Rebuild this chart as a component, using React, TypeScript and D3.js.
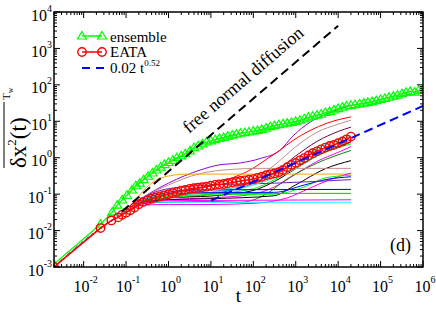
import React from 'react';
import * as d3 from 'd3';

const W = 436;
const H = 310;
const M = { left: 54, right: 423, top: 12, bottom: 267 };

// ensemble MSD (green triangles)
const ensembleT = [0.002, 0.025, 0.047, 0.062, 0.081, 0.105, 0.138, 0.17, 0.21, 0.26, 0.33, 0.42, 0.52, 0.65, 0.8,
  1, 1.26, 1.58, 2, 2.5, 3.2, 4, 5, 6.3, 7.9, 10, 12.6, 15.8, 20, 25, 32, 40, 50, 63, 79,
  100, 126, 158, 200, 251, 316, 398, 501, 631, 794, 1000, 1259, 1585, 1995, 2512, 3162, 3981, 5012, 6310, 7943,
  1e4, 1.26e4, 1.58e4, 2e4, 2.5e4, 3.2e4, 4e4, 5e4, 6.3e4, 7.9e4, 1e5, 1.26e5, 1.58e5, 2e5, 2.5e5, 3.2e5, 4e5, 5e5, 6.3e5, 7.9e5, 1e6];
const ensembleMsd = [0.0012, 0.015, 0.032, 0.05, 0.069, 0.093, 0.13, 0.17, 0.2, 0.25, 0.31, 0.38, 0.46, 0.55, 0.65,
  0.74, 0.85, 1.0, 1.12, 1.29, 1.55, 1.9, 2.1, 2.4, 2.7, 2.9, 3.15, 3.4, 3.6, 3.9, 4.15, 4.4, 4.7, 4.9, 5.1,
  5.4, 5.6, 6.0, 6.5, 7.1, 7.6, 8.1, 8.5, 8.9, 9.3, 10, 10.7, 11.7, 12.9, 13.8, 14.8, 15.8, 17.4, 18.6, 20.4,
  22.4, 24.5, 26.3, 27.5, 28.8, 30.2, 31.6, 33, 34.7, 37, 39.8, 42.6, 45.7, 49, 52.5, 57.5, 61.7, 66, 63, 70.8, 75.9];

// ensemble averaged time averaged MSD (red circles)
const eataT = [0.002, 0.025, 0.045, 0.065, 0.08, 0.1, 0.126, 0.158, 0.2, 0.25, 0.32, 0.4, 0.5, 0.63, 0.79,
  1, 1.26, 1.58, 2, 2.5, 3.2, 4, 5, 6.3, 7.9, 10, 12.6, 15.8, 20, 25, 32, 40, 50, 63, 79,
  100, 126, 158, 200, 251, 316, 398, 501, 631, 794, 1000, 1259, 1585, 1995, 2512, 3162, 3981, 5012, 6310, 7943,
  1e4, 1.26e4, 1.58e4, 2e4];
const eataMsd = [0.001, 0.0117, 0.019, 0.023, 0.027, 0.031, 0.036, 0.043, 0.053, 0.061, 0.068, 0.075, 0.081, 0.087, 0.093,
  0.1, 0.107, 0.115, 0.125, 0.13, 0.14, 0.145, 0.15, 0.155, 0.16, 0.17, 0.18, 0.185, 0.19, 0.2, 0.21, 0.22, 0.23, 0.24, 0.25,
  0.26, 0.28, 0.3, 0.33, 0.35, 0.37, 0.4, 0.46, 0.55, 0.63, 0.72, 0.85, 0.98, 1.15, 1.33, 1.5, 1.7, 1.9, 2.1, 2.25,
  2.5, 2.8, 3.2, 3.8];

// single trajectory TA-MSD, common start then each own path
const trajStart = [[0.002, 0.001], [0.025, 0.0115], [0.05, 0.02], [0.089, 0.031]];
const trajectories = [
  [[0.25, 0.08], [1, 0.2], [5.6, 0.46], [15, 0.63], [50, 0.72], [145, 0.95], [427, 1.6], [871, 4.0], [2188, 9.5], [5495, 16], [2e4, 28]],
  [[0.25, 0.07], [1, 0.1], [3.2, 0.126], [10, 0.178], [32, 0.28], [83, 0.457], [200, 0.89], [427, 1.62], [871, 3.0], [2188, 5.6], [5495, 8.9], [2e4, 13.2]],
  [[0.25, 0.063], [1, 0.089], [10, 0.112], [100, 0.25], [316, 0.63], [1000, 2.0], [3162, 5.0], [1e4, 8.3], [2e4, 10.7]],
  [[0.25, 0.063], [1, 0.079], [10, 0.1], [100, 0.2], [316, 0.4], [1000, 1.12], [3162, 2.8], [1e4, 5.25], [2e4, 6.9]],
  [[0.25, 0.071], [1, 0.089], [10, 0.112], [100, 0.178], [316, 0.355], [1000, 0.79], [3162, 1.78], [1e4, 3.16], [2e4, 4.2]],
  [[0.25, 0.063], [1, 0.079], [10, 0.089], [100, 0.126], [316, 0.224], [1000, 0.5], [3162, 1.12], [1e4, 2.0], [2e4, 2.7]],
  [[0.25, 0.063], [1, 0.079], [10, 0.1], [100, 0.141], [316, 0.25], [1000, 0.56], [3162, 1.12], [1e4, 1.9], [2e4, 2.4]],
  [[0.25, 0.056], [1, 0.071], [10, 0.079], [100, 0.1], [316, 0.158], [1000, 0.355], [3162, 0.79], [1e4, 1.41], [2e4, 2.0]],
  [[0.25, 0.056], [1, 0.06], [10, 0.063], [50, 0.06], [200, 0.1], [562, 0.24], [3162, 0.71], [2e4, 1.58]],
  [[0.25, 0.06], [1, 0.07], [10, 0.075], [300, 0.09], [1000, 0.18], [5000, 0.5], [2e4, 0.83]],
  [[0.25, 0.08], [1, 0.178], [5, 0.355], [32, 0.48], [145, 0.51], [2e4, 0.51]],
  [[0.15, 0.06], [0.3, 0.15], [0.63, 0.275], [2.75, 0.355], [2e4, 0.355]],
  [[0.25, 0.05], [1, 0.052], [10, 0.052], [100, 0.056], [631, 0.079], [2000, 0.141], [6310, 0.25], [2e4, 0.38]],
  [[0.25, 0.063], [1, 0.089], [10, 0.095], [316, 0.1], [1585, 0.158], [5012, 0.28], [2e4, 0.33]],
  [[0.25, 0.07], [1, 0.1], [10, 0.11], [316, 0.112], [1585, 0.178], [5012, 0.25], [2e4, 0.3]],
  [[0.25, 0.071], [1, 0.112], [3.2, 0.13], [2e4, 0.135]],
  [[0.25, 0.063], [1, 0.1], [10, 0.105], [2e4, 0.105]],
  [[0.25, 0.056], [0.63, 0.06], [2e4, 0.06]],
  [[0.25, 0.08], [1, 0.141], [10, 0.178], [316, 0.2], [2e4, 0.25]],
  [[0.25, 0.056], [1, 0.066], [100, 0.068], [2e4, 0.07]],
  [[0.25, 0.07], [1, 0.1], [10, 0.13], [100, 0.18], [1000, 0.5], [5000, 1.5], [2e4, 3.0]],
];
const trajColors = ['#9400d3', '#ff0000', '#bc8f8f', '#670748', '#00ffff', '#000000', '#00ff00', '#ff00ff',
  '#008b00', '#000000', '#bc8f8f', '#ffa500', '#ff00ff', '#00ff00', '#0000ff', '#0000ff', '#00c800', '#00ffff',
  '#7220ab', '#ff00ff', '#40e0d0'];

// reference lines
const freeT = [0.08, 1e4];
const freeCoef = 0.42;
const fitT = [10, 1e6];
const fitCoef = 0.02;
const fitExp = 0.52;

const xExps = [-2, -1, 0, 1, 2, 3, 4, 5, 6];
const yExps = [-3, -2, -1, 0, 1, 2, 3, 4];

const FONT = "'Liberation Serif', 'Times New Roman', Times, serif";

const x = d3.scaleLog().domain([0.002, 1e6]).range([M.left, M.right]);
const y = d3.scaleLog().domain([1e-3, 1e4]).range([M.bottom, M.top]);

const line = d3.line<number[]>().x(d => x(d[0])).y(d => y(d[1]));
const smooth = d3.line<number[]>().x(d => x(d[0])).y(d => y(d[1])).curve(d3.curveMonotoneX);

const tri = 'M0,-4.5L4.5,3L-4.5,3Z';

function minorTicks(lo: number, hi: number) {
  const out: number[] = [];
  for (let k = -4; k <= 7; k++) {
    for (let m = 1; m <= 9; m++) {
      const v = m * Math.pow(10, k);
      if (v >= lo * 0.9999 && v <= hi * 1.0001) out.push(v);
    }
  }
  return out;
}

export default function App() {
  const ensemble = ensembleT.map((t, i) => [t, ensembleMsd[i]]);
  const eata = eataT.map((t, i) => [t, eataMsd[i]]);
  const free = freeT.map(t => [t, freeCoef * t]);
  const fit = fitT.map(t => [t, fitCoef * Math.pow(t, fitExp)]);
  const xt = minorTicks(0.002, 1e6);
  const yt = minorTicks(1e-3, 1e4);
  const isMajor = (v: number) => Math.abs(Math.log10(v) - Math.round(Math.log10(v))) < 1e-6;
  const angle = (Math.atan2(y(1) - y(10), x(10) - x(1)) * 180) / Math.PI;

  return (
    <svg width={W} height={H} style={{ position: 'absolute', left: 0, top: 0, background: '#fff', fontFamily: FONT }}>
      <defs>
        <clipPath id="plot">
          <rect x={M.left} y={M.top} width={M.right - M.left} height={M.bottom - M.top} />
        </clipPath>
      </defs>
      <g clipPath="url(#plot)">
        {trajectories.map((tr, i) => (
          <path key={i} d={smooth([...trajStart, ...tr]) || ''} fill="none" stroke={trajColors[i]} strokeWidth={1} />
        ))}
        <path d={line(ensemble) || ''} fill="none" stroke="#00ff00" strokeWidth={1.3} />
        {ensemble.map((d, i) => (
          <path key={i} d={tri} transform={`translate(${x(d[0])},${y(d[1])})`} fill="none" stroke="#00ff00" strokeWidth={1.2} />
        ))}
        <path d={line(eata) || ''} fill="none" stroke="#ff0000" strokeWidth={1.5} />
        {eata.map((d, i) => (
          <circle key={i} cx={x(d[0])} cy={y(d[1])} r={4.2} fill="none" stroke="#ff0000" strokeWidth={1.4} />
        ))}
        <path d={line(free) || ''} fill="none" stroke="#000" strokeWidth={2} strokeDasharray="9,5" />
        <path d={line(fit) || ''} fill="none" stroke="#0000ff" strokeWidth={2} strokeDasharray="9,5" />
      </g>

      {/* frame and ticks */}
      <rect x={M.left} y={M.top} width={M.right - M.left} height={M.bottom - M.top} fill="none" stroke="#000" strokeWidth={1.5} />
      {xt.map((v, i) => {
        const len = isMajor(v) ? 6 : 3;
        return (
          <g key={i} stroke="#000" strokeWidth={1}>
            <line x1={x(v)} x2={x(v)} y1={M.bottom} y2={M.bottom - len} />
            <line x1={x(v)} x2={x(v)} y1={M.top} y2={M.top + len} />
          </g>
        );
      })}
      {yt.map((v, i) => {
        const len = isMajor(v) ? 6 : 3;
        return (
          <g key={i} stroke="#000" strokeWidth={1}>
            <line x1={M.left} x2={M.left + len} y1={y(v)} y2={y(v)} />
            <line x1={M.right} x2={M.right - len} y1={y(v)} y2={y(v)} />
          </g>
        );
      })}

      {/* tick labels */}
      {xExps.map(e => (
        <text key={e} x={x(Math.pow(10, e)) + 2} y={M.bottom + 25} fontSize={16} textAnchor="middle">
          10<tspan dy={-9} fontSize={10}>{e}</tspan>
        </text>
      ))}
      {yExps.map(e => (
        <text key={e} x={M.left - 2} y={y(Math.pow(10, e)) + 8.5} fontSize={16} textAnchor="end">
          10<tspan dy={-9} fontSize={10}>{e}</tspan>
        </text>
      ))}

      {/* axis titles */}
      <text x={(M.left + M.right) / 2} y={302} fontSize={19} textAnchor="middle">t</text>
      <g transform="translate(26,168) rotate(-90)">
        <text x={0} y={0} fontSize={23}>
          δx<tspan dy={-10} fontSize={13}>2</tspan><tspan dy={10}>(t)</tspan>
        </text>
        <line x1={0} x2={66} y1={-22} y2={-22} stroke="#000" strokeWidth={1} />
        <text x={68} y={-16} fontSize={11}>
          T<tspan dy={3} fontSize={8}>w</tspan>
        </text>
      </g>

      {/* annotations */}
      <text transform={`translate(189,134) rotate(${-angle})`} fontSize={18}>free normal diffusion</text>
      <text x={390} y={251} fontSize={18}>(d)</text>

      {/* legend */}
      <g>
        <line x1={82} x2={102} y1={36} y2={36} stroke="#00ff00" strokeWidth={1.5} />
        <path d={tri} transform="translate(82,36)" fill="none" stroke="#00ff00" strokeWidth={1.2} />
        <path d={tri} transform="translate(102,36)" fill="none" stroke="#00ff00" strokeWidth={1.2} />
        <text x={110} y={42} fontSize={15}>ensemble</text>
        <line x1={82} x2={102} y1={52} y2={52} stroke="#ff0000" strokeWidth={1.5} />
        <circle cx={82} cy={52} r={4.2} fill="none" stroke="#ff0000" strokeWidth={1.4} />
        <circle cx={102} cy={52} r={4.2} fill="none" stroke="#ff0000" strokeWidth={1.4} />
        <text x={110} y={57} fontSize={15}>EATA</text>
        <line x1={82} x2={104} y1={68} y2={68} stroke="#0000ff" strokeWidth={2} strokeDasharray="8,6" />
        <text x={110} y={73} fontSize={15}>
          0.02 t<tspan dy={-7} fontSize={9}>0.52</tspan>
        </text>
      </g>
    </svg>
  );
}
